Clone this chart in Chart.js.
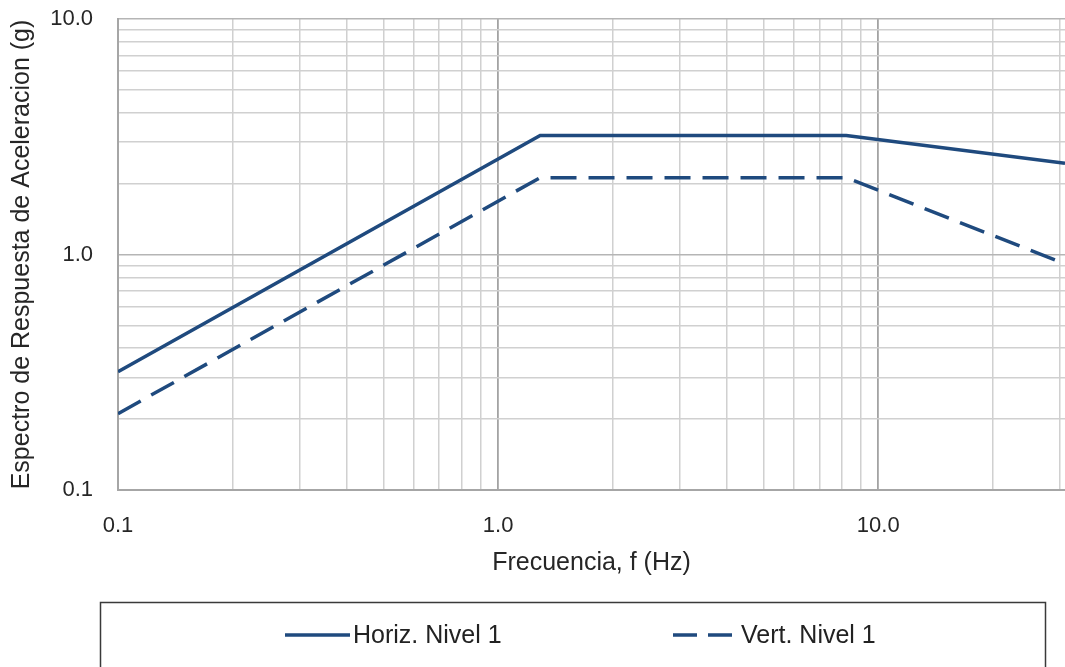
<!DOCTYPE html>
<html>
<head>
<meta charset="utf-8">
<script src="https://cdn.jsdelivr.net/npm/chart.js@4.4.1/dist/chart.umd.min.js"></script>
<style>
  html, body { margin: 0; padding: 0; background: #fff; }
  #wrap { width: 1065px; height: 667px; }
</style>
</head>
<body>
<div id="wrap"><canvas id="chart" width="1065" height="667"></canvas></div>
<script>
// frequency (Hz) / spectral acceleration (g)
const horizFreq = [0.1, 1.29, 8.24, 31];
const horizAcc  = [0.318, 3.2, 3.2, 2.44];
const vertFreq  = [0.1, 1.29, 8.24, 31];
const vertAcc   = [0.211, 2.12, 2.12, 0.912];

const xTicks = [0.1, 0.2, 0.3, 0.4, 0.5, 0.6, 0.7, 0.8, 0.9, 1, 2, 3, 4, 5, 6, 7, 8, 9, 10, 20, 30];
const yTicks = [0.1, 0.2, 0.3, 0.4, 0.5, 0.6, 0.7, 0.8, 0.9, 1, 2, 3, 4, 5, 6, 7, 8, 9, 10];
const tickLabels = { 0.1: '0.1', 1: '1.0', 10: '10.0' };

const BLUE = '#1f4a7e';
const isMajor = v => v === 1 || v === 10;

function toPoints(xs, ys) {
    return xs.map((x, i) => ({ x: x, y: ys[i] }));
}

// draws the boxed legend under the plot
const boxLegend = {
    id: 'boxLegend',
    afterDraw(chart) {
        const ctx = chart.ctx;
        ctx.save();
        ctx.strokeStyle = '#3a3a3a';
        ctx.lineWidth = 1.5;
        ctx.strokeRect(100.5, 602.5, 945, 100);

        const itemX = [285, 673];
        const y = 635;
        ctx.font = '25px "Liberation Sans Narrow", "Arial Narrow", "Liberation Sans", Arial, sans-serif';
        ctx.textBaseline = 'middle';
        chart.data.datasets.forEach((ds, i) => {
            const x = itemX[i];
            ctx.beginPath();
            ctx.strokeStyle = ds.borderColor;
            ctx.lineWidth = ds.borderWidth;
            ctx.setLineDash(ds.legendDash || []);
            ctx.moveTo(x, y);
            ctx.lineTo(x + 65, y);
            ctx.stroke();
            ctx.setLineDash([]);
            ctx.fillStyle = '#222';
            ctx.fillText(ds.label, x + 68, y + 1);
        });
        ctx.restore();
    }
};

const ctx = document.getElementById('chart').getContext('2d');
const chart = new Chart(ctx, {
    type: 'line',
    data: {
        datasets: [{
            label: 'Horiz. Nivel 1',
            data: toPoints(horizFreq, horizAcc),
            borderColor: BLUE,
            borderWidth: 3.5,
            pointRadius: 0,
            fill: false
        }, {
            label: 'Vert. Nivel 1',
            data: toPoints(vertFreq, vertAcc),
            borderColor: BLUE,
            borderWidth: 3.5,
            borderDash: [26, 12],
            legendDash: [24, 11],
            pointRadius: 0,
            fill: false
        }]
    },
    options: {
        responsive: false,
        animation: false,
        devicePixelRatio: 1,
        layout: { padding: { top: 19, right: 0, left: 0, bottom: 89 } },
        plugins: {
            legend: { display: false },
            tooltip: { enabled: false }
        },
        scales: {
            x: {
                type: 'logarithmic',
                min: 0.1,
                max: 31,
                afterBuildTicks: scale => { scale.ticks = xTicks.map(v => ({ value: v })); },
                afterFit: scale => {
                    scale.height = 88;
                    scale.paddingRight = 0;
                    scale.paddingLeft = 0;
                },
                grid: {
                    drawTicks: false,
                    color: c => isMajor(c.tick && c.tick.value) ? '#a3a3a3' : '#d0d0d0',
                    lineWidth: c => isMajor(c.tick && c.tick.value) ? 1.8 : 1.5
                },
                border: { color: '#a6a6a6', width: 2 },
                ticks: {
                    autoSkip: false,
                    maxRotation: 0,
                    padding: 23,
                    color: '#262626',
                    font: { size: 22, family: '"Liberation Sans", Arial, sans-serif' },
                    callback: v => tickLabels[v] || ''
                },
                title: {
                    display: true,
                    text: 'Frecuencia, f (Hz)',
                    color: '#262626',
                    padding: 0,
                    font: { size: 25, family: '"Liberation Sans", Arial, sans-serif' }
                }
            },
            y: {
                type: 'logarithmic',
                min: 0.1,
                max: 10,
                afterBuildTicks: scale => { scale.ticks = yTicks.map(v => ({ value: v })); },
                afterFit: scale => {
                    scale.width = 118;
                    scale.paddingTop = 0;
                    scale.paddingBottom = 0;
                },
                grid: {
                    drawTicks: false,
                    color: c => isMajor(c.tick && c.tick.value) ? '#b5b5b5' : '#d0d0d0',
                    lineWidth: 1.5
                },
                border: { color: '#a6a6a6', width: 2 },
                ticks: {
                    autoSkip: false,
                    padding: 25,
                    color: '#262626',
                    font: { size: 22, family: '"Liberation Sans", Arial, sans-serif' },
                    callback: v => tickLabels[v] || ''
                },
                title: {
                    display: true,
                    text: 'Espectro de Respuesta de Aceleracion (g)',
                    color: '#262626',
                    padding: { top: 7, bottom: 0 },
                    font: { size: 25, family: '"Liberation Sans", Arial, sans-serif' }
                }
            }
        }
    },
    plugins: [boxLegend]
});
</script>
</body>
</html>
